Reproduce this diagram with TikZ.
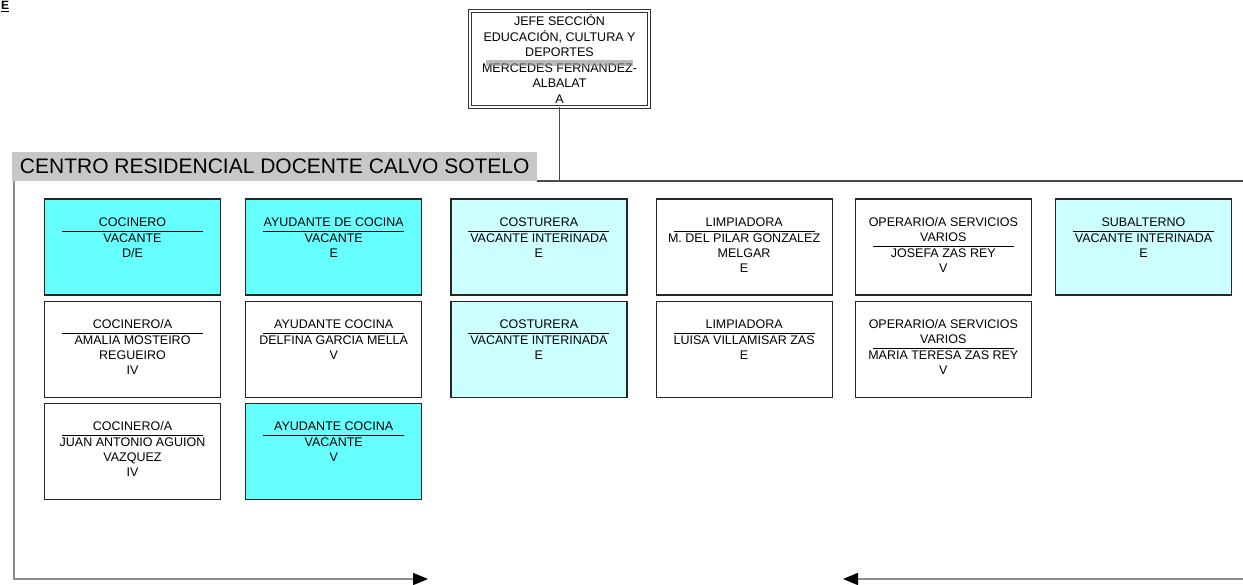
\documentclass[tikz,border=0pt]{standalone}
\usepackage{fontspec}
\setmainfont{Liberation Sans}
\usepackage{array}
\usetikzlibrary{arrows.meta, positioning}
\definecolor{cianvivo}{RGB}{102,255,255}
\definecolor{cianclaro}{RGB}{204,255,255}
\setlength{\arrayrulewidth}{1.1pt}
\newcolumntype{C}{@{}>{\hbox to 141pt\bgroup\hss}c<{\hss\egroup}@{}}
\newcommand{\plaza}[2]{\begin{tabular}[t]{C}#1\\\hline #2\end{tabular}}
\tikzset{
  jefebox/.style={rectangle, draw=black!80, line width=0.9pt, double=white, double distance=2pt, minimum width=179pt, minimum height=96pt, align=center, font=\fontsize{12.5}{15.6}\selectfont},
  puesto/.style={rectangle, draw=black!85, line width=1.2pt, fill=white, minimum width=176pt, inner sep=0pt, text height=27.5pt, text depth=68.5pt, font=\fontsize{12.5}{15}\selectfont},
  vacante/.style={puesto, fill=cianvivo},
  interina/.style={puesto, fill=cianclaro},
  centrobar/.style={rectangle, fill=black!22, minimum width=525pt, minimum height=29pt, inner sep=0pt, font=\fontsize{21}{24}\selectfont},
  link/.style={draw=black!70, line width=1.3pt},
  frame/.style={draw=black!45, line width=1.6pt},
  gap/.style={frame, -{Triangle[length=15pt, width=12pt, color=black]}}
}
\begin{document}
\begin{tikzpicture}[x=1pt, y=1pt, node distance=5pt]
    \useasboundingbox (0,0) rectangle (1243,584);
    \node (marca) [anchor=north west, inner sep=0pt, font=\bfseries\fontsize{12}{14}\selectfont] at (1,583) {\underline{E}};

    \node (jefe) [jefebox] at (559.5,525) {JEFE SECCIÓN\\EDUCACIÓN, CULTURA Y\\DEPORTES\\MERCEDES FERNANDEZ-\\ALBALAT\\A};
    \fill[black!45, opacity=.6] ([xshift=-73.5pt, yshift=-7pt]jefe.center) rectangle ([xshift=73.5pt, yshift=-1pt]jefe.center);

    \node (centro) [centrobar, anchor=south west] at (12,403) {CENTRO RESIDENCIAL DOCENTE CALVO SOTELO};

    % first row
    \node (cocinero) [vacante] at (132.5,337) {\plaza{COCINERO}{VACANTE\\D/E}};
    \node (ayudante) [vacante, right=24pt of cocinero] {\plaza{AYUDANTE DE COCINA}{VACANTE\\E}};
    \node (costurera) [interina, right=28pt of ayudante] {\plaza{COSTURERA}{VACANTE INTERINADA\\E}};
    \node (limpiadora) [puesto, right=28pt of costurera] {\plaza{LIMPIADORA}{M. DEL PILAR GONZALEZ\\MELGAR\\E}};
    \node (operario) [puesto, right=22pt of limpiadora] {\plaza{OPERARIO/A SERVICIOS\\VARIOS}{JOSEFA ZAS REY\\V}};
    \node (subalterno) [interina, right=23pt of operario] {\plaza{SUBALTERNO}{VACANTE INTERINADA\\E}};

    % second and third rows
    \node (cocinero2) [puesto, below=of cocinero] {\plaza{COCINERO/A}{AMALIA MOSTEIRO\\REGUEIRO\\IV}};
    \node (cocinero3) [puesto, below=of cocinero2] {\plaza{COCINERO/A}{JUAN ANTONIO AGUION\\VAZQUEZ\\IV}};
    \node (ayudante2) [puesto, below=of ayudante] {\plaza{AYUDANTE COCINA}{DELFINA GARCIA MELLA\\V}};
    \node (ayudante3) [vacante, below=of ayudante2] {\plaza{AYUDANTE COCINA}{VACANTE\\V}};
    \node (costurera2) [interina, below=of costurera] {\plaza{COSTURERA}{VACANTE INTERINADA\\E}};
    \node (limpiadora2) [puesto, below=of limpiadora] {\plaza{LIMPIADORA}{LUISA VILLAMISAR ZAS\\E}};
    \node (operario2) [puesto, below=of operario] {\plaza{OPERARIO/A SERVICIOS\\VARIOS}{MARIA TERESA ZAS REY\\V}};

    % links
    \coordinate (borde) at (1243,403);
    \draw[link] (jefe) -- (jefe |- centro.south);
    \draw[link] (centro.south east) -- (borde);

    % frame of the centre, cut at the bottom
    \coordinate (esquina) at ([xshift=2pt]centro.south west);
    \coordinate (corteizq) at (428,5);
    \coordinate (corteder) at (843,5);
    \coordinate (finder) at (1243,5);
    \draw[gap] (esquina) |- (corteizq);
    \draw[gap] (finder) -- (corteder);
  \end{tikzpicture}
\end{document}
